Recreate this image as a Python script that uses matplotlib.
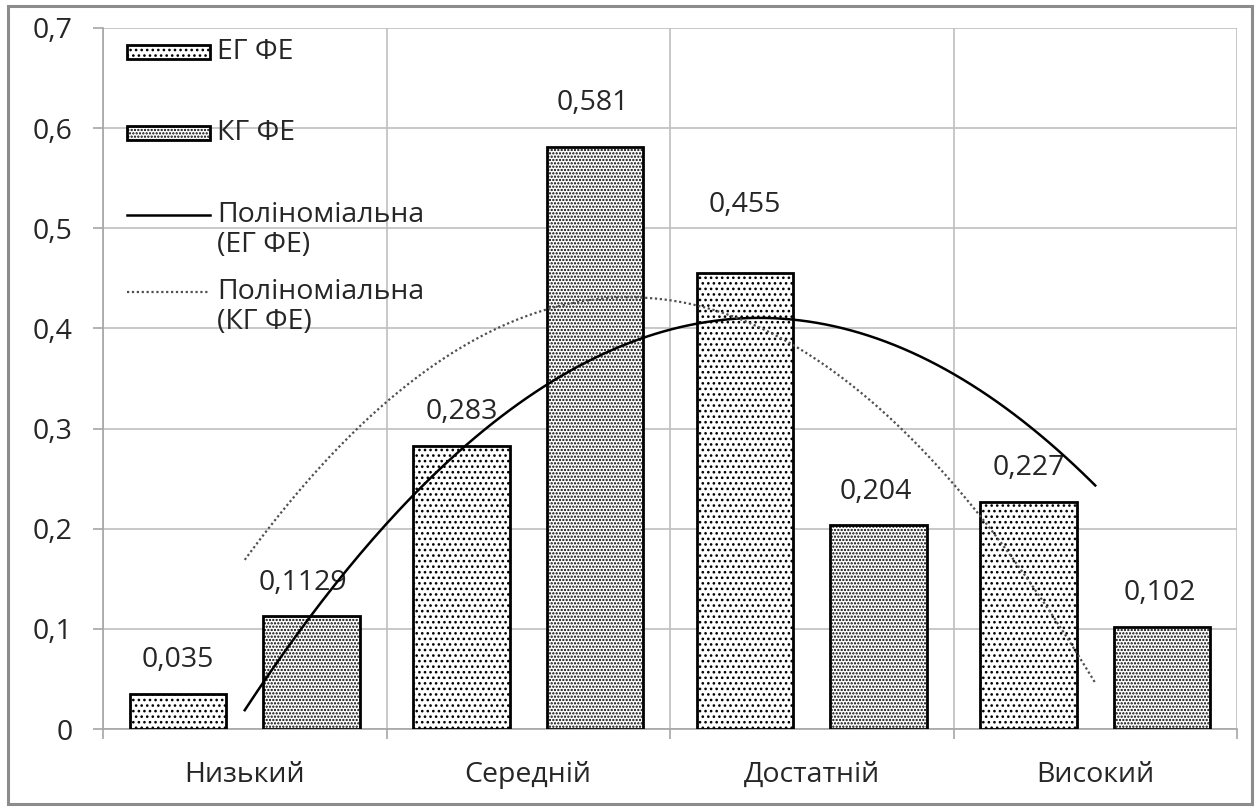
import matplotlib
matplotlib.use("Agg")
import matplotlib.pyplot as plt
import numpy as np
from matplotlib.patches import Rectangle
from matplotlib.lines import Line2D
from matplotlib.ticker import FixedLocator, FuncFormatter

CATEGORIES = ["Низький", "Середній", "Достатній", "Високий"]
EG_VALUES = [0.035, 0.283, 0.455, 0.227]
KG_VALUES = [0.1129, 0.581, 0.204, 0.102]
EG_LABELS = ["0,035", "0,283", "0,455", "0,227"]
KG_LABELS = ["0,1129", "0,581", "0,204", "0,102"]
Y_TICKS = [0, 0.1, 0.2, 0.3, 0.4, 0.5, 0.6, 0.7]

GRID = "#bfbfbf"
AXIS = "#a6a6a6"
TXT = "#262626"
FS = 20.5

plt.rcParams["font.family"] = ["Open Sans", "DejaVu Sans"]
plt.rcParams["hatch.linewidth"] = 1.1

W, H = 1259, 810
fig = plt.figure(figsize=(W / 100, H / 100), dpi=100)
ax = fig.add_axes([103 / W, 1 - 729 / H, 1134 / W, 701 / H])

x = np.arange(1, len(CATEGORIES) + 1)
off = 0.236
bw = 0.34

ax.bar(x - off, EG_VALUES, bw, facecolor="white", edgecolor="black",
       linewidth=2.0, hatch="...", zorder=3)
ax.bar(x + off, KG_VALUES, bw, facecolor="white", edgecolor="black",
       linewidth=2.0, hatch=".....", zorder=3)

# quadratic trendlines (Excel style polynomial, order 2)
xs = np.linspace(1, len(CATEGORIES), 200)
eg_fit = np.polyval(np.polyfit(x, EG_VALUES, 2), xs)
kg_fit = np.polyval(np.polyfit(x, KG_VALUES, 2), xs)
ax.plot(xs, eg_fit, color="black", linewidth=1.8, zorder=4)
ax.plot(xs, kg_fit, color="#505050", linewidth=1.6, linestyle=(0, (1, 1.2)), zorder=4)

# data labels
eg_pad = [34, 34, 68, 34]
kg_pad = [33, 44, 33, 34]
for i in range(len(CATEGORIES)):
    ax.annotate(EG_LABELS[i], (x[i] - off, EG_VALUES[i]), xytext=(0, eg_pad[i] * 0.72),
                textcoords="offset points", ha="center", va="center", fontsize=FS, color=TXT)
    ax.annotate(KG_LABELS[i], (x[i] + off, KG_VALUES[i]), xytext=(-6 if i == 0 else -2, kg_pad[i] * 0.72),
                textcoords="offset points", ha="center", va="center", fontsize=FS, color=TXT)

ax.set_xlim(0.5, len(CATEGORIES) + 0.5)
ax.set_ylim(0, 0.7)
ax.xaxis.set_major_locator(FixedLocator(np.arange(0.5, len(CATEGORIES) + 1, 1)))
ax.xaxis.set_minor_locator(FixedLocator(x))
ax.xaxis.set_major_formatter(FuncFormatter(lambda v, p: ""))
ax.xaxis.set_minor_formatter(FuncFormatter(lambda v, p: CATEGORIES[int(round(v)) - 1]))
ax.tick_params(axis="x", which="major", length=7, width=1.2, color=AXIS, direction="out")
ax.tick_params(axis="x", which="minor", length=0, pad=23, labelsize=FS, labelcolor=TXT)
ax.set_yticks(Y_TICKS)
ax.yaxis.set_major_formatter(FuncFormatter(lambda v, p: "0" if v == 0 else f"{v:.1f}".replace(".", ",")))
ax.tick_params(axis="y", length=7, width=1.2, color=AXIS, pad=15, labelsize=FS, labelcolor=TXT)

ax.grid(True, which="major", color=GRID, linewidth=1.2, zorder=0)
ax.set_axisbelow(True)
for s in ["top", "right"]:
    ax.spines[s].set_visible(False)
for s in ["left", "bottom"]:
    ax.spines[s].set_color(AXIS)
    ax.spines[s].set_linewidth(1.2)


# legend, drawn by hand to keep the Excel layout
def px(xp, yp):
    return (xp - 103) / 1134, (729 - yp) / 701


def leg_patch(yp, hatch):
    x0, y0 = px(127, yp + 7)
    x1, y1 = px(210, yp - 7)
    ax.add_patch(Rectangle((x0, y0), x1 - x0, y1 - y0, transform=ax.transAxes,
                           facecolor="white", edgecolor="black", linewidth=2.0,
                           hatch=hatch, zorder=5))


def leg_text(yp, s):
    tx, ty = px(217, yp)
    ax.text(tx, ty, s, transform=ax.transAxes, ha="left", va="center",
            fontsize=FS, color=TXT, zorder=5)


def leg_line(yp, **kw):
    x0, y0 = px(127, yp)
    x1, _ = px(210, yp)
    ax.add_line(Line2D([x0, x1], [y0, y0], transform=ax.transAxes, zorder=5, **kw))


leg_patch(52, "...")
leg_text(52, "ЕГ ФЕ")
leg_patch(133, ".....")
leg_text(133, "КГ ФЕ")
leg_line(215, color="black", linewidth=1.8)
leg_text(215, "Поліноміальна")
leg_text(245, "(ЕГ ФЕ)")
leg_line(292, color="#505050", linewidth=1.6, linestyle=(0, (1, 1.2)))
leg_text(292, "Поліноміальна")
leg_text(322, "(КГ ФЕ)")

fig.patches.append(Rectangle((8 / W, 1 - 804 / H), 1244 / W, 798 / H, transform=fig.transFigure,
                             facecolor="none", edgecolor="#8c8c8c", linewidth=2.2))

fig.savefig("out.png", dpi=100)
